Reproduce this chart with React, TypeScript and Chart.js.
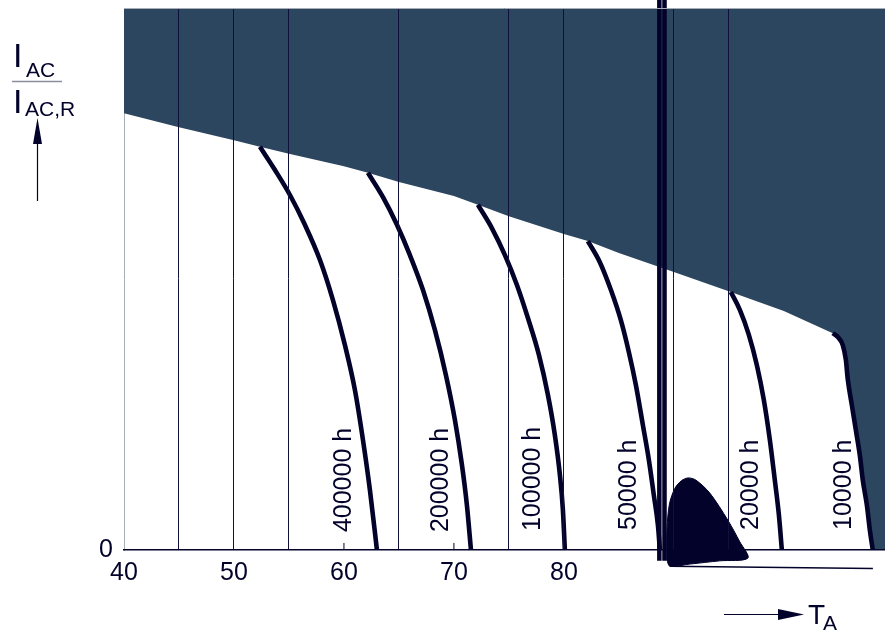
import React, { useEffect, useRef } from 'react';
import { Chart, registerables } from 'chart.js';

Chart.register(...registerables);

// ---- axis / tick data ----
const xTickLabels = [40, 50, 60, 70, 80];
const gridLineX = [45, 50, 55, 65, 75, 80, 90, 95];
const shortTickX = [60, 70];
const shortTickY = [0, 0.013];

// ---- upper limit (shaded region boundary) ----
const limitX = [40, 45, 50, 52.36, 55, 60, 62.18, 65, 70, 72.18, 75, 80, 82.18, 85, 90, 95.18, 100, 104.45];
const limitY = [0.806, 0.78, 0.756, 0.744, 0.731, 0.708, 0.696, 0.679, 0.653, 0.637, 0.616, 0.583, 0.57, 0.548, 0.513, 0.476, 0.441, 0.4];

// ---- lifetime curves ----
const c400kX = [52.36, 53.73, 55.09, 56.45, 57.82, 59.0, 60.09, 61.0, 61.73, 62.36, 63.0];
const c400kY = [0.744, 0.701, 0.655, 0.6, 0.535, 0.461, 0.378, 0.295, 0.203, 0.111, 0];
const c200kX = [62.18, 63.55, 64.82, 66.0, 67.18, 68.27, 69.27, 70.09, 70.73, 71.18, 71.55];
const c200kY = [0.696, 0.651, 0.6, 0.544, 0.48, 0.406, 0.323, 0.24, 0.157, 0.083, 0];
const c100kX = [72.18, 73.45, 74.64, 75.73, 76.73, 77.73, 78.55, 79.18, 79.64, 79.91, 80.09];
const c100kY = [0.637, 0.594, 0.544, 0.489, 0.428, 0.36, 0.286, 0.212, 0.138, 0.074, 0];
const c50kX = [82.18, 83.27, 84.27, 85.18, 85.91, 86.55, 87.18, 87.73, 88.18, 88.55, 88.73];
const c50kY = [0.57, 0.531, 0.48, 0.424, 0.365, 0.304, 0.231, 0.166, 0.101, 0.046, 0];
const c20kX = [95.18, 96.0, 96.82, 97.55, 98.18, 98.73, 99.18, 99.55, 99.82];
const c20kY = [0.476, 0.443, 0.397, 0.341, 0.277, 0.203, 0.129, 0.065, 0];
const c10kX = [104.45, 104.91, 105.36, 105.64, 105.82, 106.18, 106.55, 106.91, 107.18, 107.55, 107.82, 108.09];
const c10kY = [0.4, 0.393, 0.378, 0.351, 0.314, 0.268, 0.221, 0.175, 0.129, 0.083, 0.037, 0];
const shadeEndX = [109.2];
const shadeEndY = [0];

// ---- curve labels ----
const curveNames = ['400000 h', '200000 h', '100000 h', '50000 h', '20000 h', '10000 h'];
const curveLabelX = [59.9, 68.7, 77.1, 85.8, 96.9, 105.4];
const curveLabelY = [0.033, 0.033, 0.035, 0.037, 0.037, 0.037];

// ---- rendering artefacts present in the reference ----
const barAX = [88.68, 88.68];
const barBX = [89.15, 89.15];
const barY = [1.015, -0.02];
const blobX = [89.36, 89.38, 89.6, 90.1, 90.7, 91.3, 92.0, 93.27, 94.91, 96.0, 96.73, 94.18, 91.45, 89.64, 89.36];
const blobY = [-0.018, 0.04, 0.085, 0.114, 0.128, 0.133, 0.129, 0.105, 0.055, 0.015, -0.015, -0.02, -0.026, -0.03, -0.018];
const streakX = [89.64, 108.1];
const streakY = [-0.03, -0.034];

const INK = '#02022a';
const SHADE = '#2c4660';
const FONT = '"Liberation Sans", Arial, sans-serif';
const BLOB_INDEX = 11;

const pts = (xs: number[], ys: number[]) => xs.map((x, i) => ({ x, y: ys[i] }));

export default function App() {
  const ref = useRef<HTMLCanvasElement | null>(null);

  useEffect(() => {
    if (!ref.current) return;

    const curve = (xs: number[], ys: number[]) => ({
      data: pts(xs, ys),
      showLine: true,
      borderColor: INK,
      borderWidth: 4.6,
      pointRadius: 0,
      cubicInterpolationMode: 'monotone' as const,
      fill: false,
      order: 2,
    });

    const labelsPlugin = {
      id: 'labels',
      afterDatasetsDraw(chart: any) {
        const { ctx, scales } = chart;
        const xs = scales.x, ys = scales.y;
        ctx.save();
        // filled blob using the library's own line path
        const meta = chart.getDatasetMeta(BLOB_INDEX);
        if (meta && meta.dataset) {
          ctx.fillStyle = INK;
          ctx.beginPath();
          meta.dataset.path(ctx);
          ctx.closePath();
          ctx.fill();
        }
        ctx.fillStyle = INK;
        ctx.font = `25px ${FONT}`;
        ctx.textBaseline = 'middle';
        ctx.textAlign = 'left';
        curveNames.forEach((name, i) => {
          const px = xs.getPixelForValue(curveLabelX[i]);
          const py = ys.getPixelForValue(curveLabelY[i]);
          ctx.save();
          ctx.translate(px, py);
          ctx.rotate(-Math.PI / 2);
          ctx.fillText(name, 0, 1);
          ctx.restore();
        });
        ctx.restore();
      },
      afterDraw(chart: any) {
        const { ctx, chartArea } = chart;
        ctx.save();
        // top border
        ctx.strokeStyle = '#a7aeb8';
        ctx.lineWidth = 1;
        ctx.beginPath();
        ctx.moveTo(chartArea.left, chartArea.top + 0.5);
        ctx.lineTo(chartArea.right, chartArea.top + 0.5);
        ctx.stroke();

        ctx.fillStyle = INK;
        ctx.strokeStyle = INK;
        ctx.textBaseline = 'alphabetic';
        ctx.textAlign = 'left';
        // y-axis title: I_AC / I_AC,R
        ctx.font = `34px ${FONT}`;
        ctx.fillText('I', 13, 67);
        ctx.fillText('I', 13, 113);
        ctx.font = `21px ${FONT}`;
        ctx.fillText('AC', 26, 77);
        ctx.fillText('AC,R', 25, 116);
        ctx.strokeStyle = '#8a909a';
        ctx.lineWidth = 1.5;
        ctx.beginPath();
        ctx.moveTo(12, 81.5);
        ctx.lineTo(62, 81.5);
        ctx.stroke();
        // up arrow
        ctx.strokeStyle = INK;
        ctx.lineWidth = 1.2;
        ctx.beginPath();
        ctx.moveTo(37.5, 201);
        ctx.lineTo(37.5, 138);
        ctx.stroke();
        ctx.beginPath();
        ctx.moveTo(37.5, 118);
        ctx.lineTo(33, 144);
        ctx.lineTo(42, 144);
        ctx.closePath();
        ctx.fill();
        // x-axis title: -> T_A
        ctx.beginPath();
        ctx.moveTo(724, 614.5);
        ctx.lineTo(782, 614.5);
        ctx.stroke();
        ctx.beginPath();
        ctx.moveTo(804, 614.5);
        ctx.lineTo(778, 609);
        ctx.lineTo(778, 620);
        ctx.closePath();
        ctx.fill();
        ctx.font = `28px ${FONT}`;
        ctx.fillText('T', 808, 624);
        ctx.font = `21px ${FONT}`;
        ctx.fillText('A', 823, 630);
        ctx.restore();
      },
    };

    const chart = new Chart(ref.current, {
      type: 'scatter',
      data: {
        datasets: [
          {
            data: [...pts(limitX, limitY), ...pts(c10kX, c10kY).slice(1), ...pts(shadeEndX, shadeEndY)],
            showLine: true,
            borderWidth: 0,
            borderColor: SHADE,
            backgroundColor: SHADE,
            pointRadius: 0,
            fill: 'end',
            tension: 0,
            order: 10,
          } as any,
          curve(c400kX, c400kY),
          curve(c200kX, c200kY),
          curve(c100kX, c100kY),
          curve(c50kX, c50kY),
          curve(c20kX, c20kY),
          curve(c10kX, c10kY),
          ...shortTickX.map((x) => ({
            data: pts([x, x], shortTickY),
            showLine: true,
            borderColor: INK,
            borderWidth: 1,
            pointRadius: 0,
            order: 3,
          })),
          {
            data: pts(barAX, barY),
            showLine: true,
            borderColor: INK,
            borderWidth: 4.5,
            pointRadius: 0,
            clip: false,
            order: 1,
          } as any,
          {
            data: pts(barBX, barY),
            showLine: true,
            borderColor: INK,
            borderWidth: 4.5,
            pointRadius: 0,
            clip: false,
            order: 1,
          } as any,
          {
            data: pts(blobX, blobY),
            showLine: true,
            borderColor: INK,
            borderWidth: 1,
            pointRadius: 0,
            tension: 0.3,
            fill: false,
            clip: false,
            order: 1,
          } as any,
          {
            data: pts(streakX, streakY),
            showLine: true,
            borderColor: INK,
            borderWidth: 1.6,
            pointRadius: 0,
            clip: false,
            order: 1,
          } as any,
        ],
      },
      options: {
        animation: false,
        responsive: false,
        maintainAspectRatio: false,
        layout: { padding: { left: 0, top: 8, right: 0, bottom: 0 } },
        plugins: { legend: { display: false }, tooltip: { enabled: false } },
        scales: {
          x: {
            type: 'linear',
            min: 40,
            max: 109.2,
            afterFit: (s: any) => {
              s.height = 85;
              s.paddingLeft = 0;
              s.paddingRight = 0;
              s.paddingTop = 0;
              s.paddingBottom = 0;
            },
            border: { display: true, color: INK, width: 1.5, z: 2 },
            grid: {
              z: 1,
              drawTicks: false,
              lineWidth: 1,
              color: (c: any) => (c.tick && gridLineX.includes(c.tick.value) ? '#10103a' : 'rgba(0,0,0,0)'),
            },
            ticks: {
              stepSize: 5,
              autoSkip: false,
              maxRotation: 0,
              padding: 8,
              color: INK,
              font: { family: FONT, size: 25 },
              callback: (v: any) => (xTickLabels.includes(Number(v)) ? String(v) : ''),
            },
          },
          y: {
            type: 'linear',
            min: 0,
            max: 1,
            afterFit: (s: any) => {
              s.width = 124;
              s.paddingLeft = 0;
              s.paddingRight = 0;
              s.paddingTop = 0;
              s.paddingBottom = 0;
            },
            border: { display: true, color: '#a7aeb8', width: 1 },
            grid: { display: false, drawTicks: false },
            ticks: {
              stepSize: 0.5,
              padding: 11,
              color: INK,
              font: { family: FONT, size: 25 },
              callback: (v: any) => (Number(v) === 0 ? '0' : ''),
            },
          },
        },
      },
      plugins: [labelsPlugin],
    });

    return () => chart.destroy();
  }, []);

  return (
    <div style={{ position: 'fixed', left: 0, top: 0, width: 885, height: 635, background: '#fff' }}>
      <canvas ref={ref} width={885} height={635} style={{ width: 885, height: 635, display: 'block' }} />
    </div>
  );
}
